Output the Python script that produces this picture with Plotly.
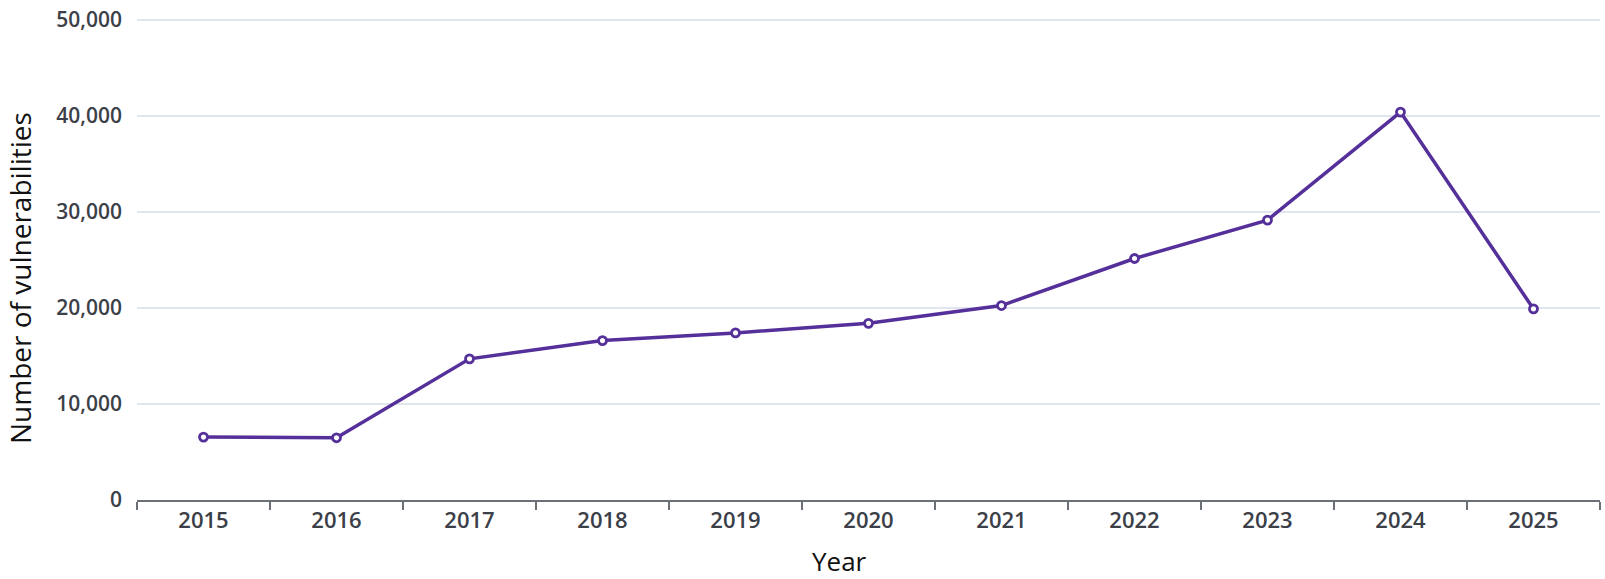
import plotly.graph_objects as go

years = ["2015", "2016", "2017", "2018", "2019", "2020", "2021", "2022", "2023", "2024", "2025"]
vulnerabilities = [6550, 6480, 14700, 16600, 17400, 18400, 20250, 25150, 29150, 40400, 19900]
y_ticks = [0, 10000, 20000, 30000, 40000, 50000]
y_tick_labels = ["0", "10,000", "20,000", "30,000", "40,000", "50,000"]

purple = "#55309a"
tick_col = "#3b4048"

fig = go.Figure()
fig.add_trace(go.Scatter(
    x=years, y=vulnerabilities, mode="lines+markers",
    line=dict(color=purple, width=3.5),
    marker=dict(symbol="circle", size=8, color="white", line=dict(color=purple, width=2.8)),
    cliponaxis=False,
))

fig.update_layout(
    width=1605, height=579,
    margin=dict(l=137, r=5, t=12, b=79),
    paper_bgcolor="white", plot_bgcolor="white",
    showlegend=False,
    xaxis=dict(
        type="category", tickson="boundaries", ticks="outside", ticklen=8, tickwidth=1.5,
        tickcolor="#6b6f76", showline=True, linecolor="#6b6f76", linewidth=1.5,
        showgrid=False, tickfont=dict(family="Open Sans", size=22, color=tick_col, weight=600),
        range=[-0.5, 10.5],
    ),
    yaxis=dict(
        range=[0, 50300], tickvals=y_ticks, ticktext=y_tick_labels,
        showgrid=True, gridcolor="#e1e5f0", gridwidth=1.5, zeroline=False,
        showline=False, ticks="", ticklabelstandoff=14,
        tickfont=dict(family="Open Sans", size=21, color=tick_col, weight=600),
    ),
    annotations=[
        dict(text="Number of vulnerabilities", xref="paper", yref="paper",
             x=-0.08, y=0.4595, textangle=-90, showarrow=False,
             xanchor="center", yanchor="middle",
             font=dict(family="Open Sans", size=28, color="#111111")),
        dict(text="Year", xref="paper", yref="paper",
             x=0.4805, y=-0.127, showarrow=False,
             xanchor="center", yanchor="middle",
             font=dict(family="Open Sans", size=26, color="#111111")),
    ],
)

fig.write_html("out.html", config={"displayModeBar": False},
               post_script="document.body.style.margin='0';document.body.style.overflow='hidden';")
